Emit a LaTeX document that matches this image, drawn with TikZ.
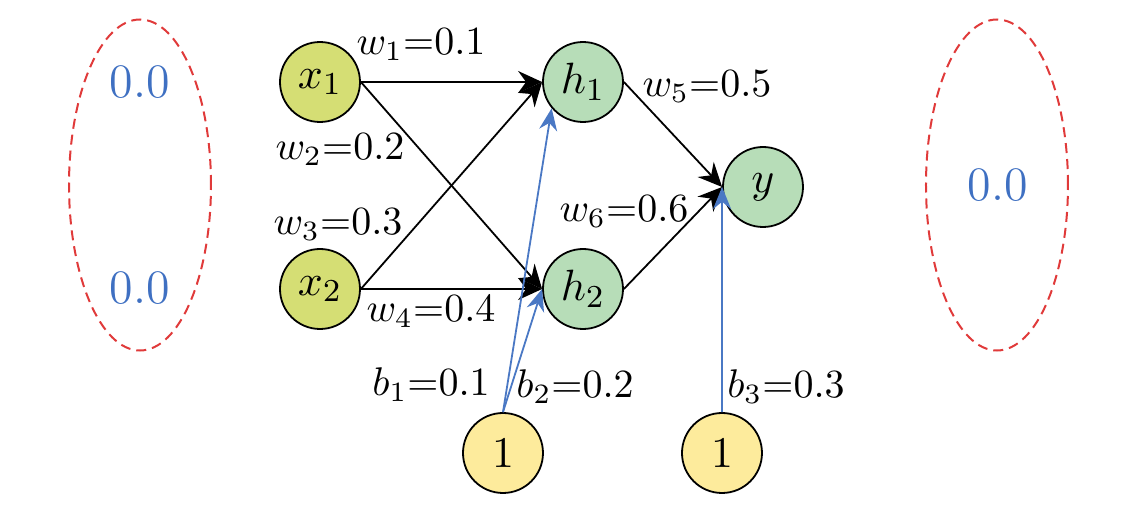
\documentclass[tikz,border=0pt]{standalone}
\usetikzlibrary{arrows.meta,shapes.geometric}
\definecolor{xfill}{HTML}{D5DE74}
\definecolor{hfill}{HTML}{B7DDB8}
\definecolor{bfill}{HTML}{FDEB9C}
\definecolor{bblue}{HTML}{4A78C4}
\definecolor{zblue}{HTML}{3F70C2}
\definecolor{rdash}{HTML}{E03A3A}
\begin{document}
\begin{tikzpicture}[x=0.25pt,y=-0.25pt,
  neuron/.style={circle,draw=black,line width=0.45pt,minimum size=20pt,inner sep=0pt,font=\fontsize{11}{13}\selectfont},
  xn/.style={neuron,fill=xfill},
  hn/.style={neuron,fill=hfill},
  bn/.style={neuron,fill=bfill},
  karrow/.style={draw=black,line width=0.45pt,-{Stealth[length=6pt,width=5.5pt,inset=2pt]}},
  barrow/.style={draw=bblue,line width=0.45pt,-{Stealth[length=5.5pt,width=4.5pt,inset=1.8pt]}},
  ell/.style={ellipse,draw=rdash,dash pattern=on 2.5pt off 1.5pt,line width=0.5pt,minimum width=35.5pt,minimum height=82.75pt,inner sep=0pt},
  zero/.style={text=zblue,inner sep=0pt,font=\large},
  lab/.style={inner sep=0pt}]
\useasboundingbox (0,0) rectangle (1140,514);
% dashed ellipses
\node[ell] (e1) at (140,185) {};
\node[ell] (e2) at (997,185) {};
\node[zero] (z1) at (140,82) {0.0};
\node[zero] (z2) at (140,288) {0.0};
\node[zero] (z3) at (998,185) {0.0};
% neurons
\node[xn] (x1) at (320,82) {$x_1$};
\node[xn] (x2) at (320,289) {$x_2$};
\node[hn] (h1) at (583,82) {$h_1$};
\node[hn] (h2) at (583,289) {$h_2$};
\node[hn] (y) at (763,187) {$y$};
\node[bn] (b1) at (503,453) {$1$};
\node[bn] (b2) at (722,453) {$1$};
% black edges
\draw[karrow] (x1.east) -- (h1.west);
\draw[karrow] (x1.east) -- (h2.west);
\draw[karrow] (x2.east) -- (h1.west);
\draw[karrow] (x2.east) -- (h2.west);
\draw[karrow] (h1.east) -- (y.west);
\draw[karrow] (h2.east) -- (y.west);
% blue bias edges
\draw[barrow] (b1.north) -- (h1.220);
\draw[barrow] (b1.north) -- (h2.west);
\draw[barrow] (b2.north) -- (y.west);
% labels
\node[lab] (lw1) at (421,45) {$w_1{=}0.1$};
\node[lab] (lw2) at (340,150) {$w_2{=}0.2$};
\node[lab] (lw3) at (338,225) {$w_3{=}0.3$};
\node[lab] (lw4) at (431,312) {$w_4{=}0.4$};
\node[lab] (lw5) at (707,87) {$w_5{=}0.5$};
\node[lab] (lw6) at (624,212) {$w_6{=}0.6$};
\node[lab] (lb1) at (431,385) {$b_1{=}0.1$};
\node[lab] (lb2) at (575,387) {$b_2{=}0.2$};
\node[lab] (lb3) at (786,387) {$b_3{=}0.3$};
\end{tikzpicture}
\end{document}
